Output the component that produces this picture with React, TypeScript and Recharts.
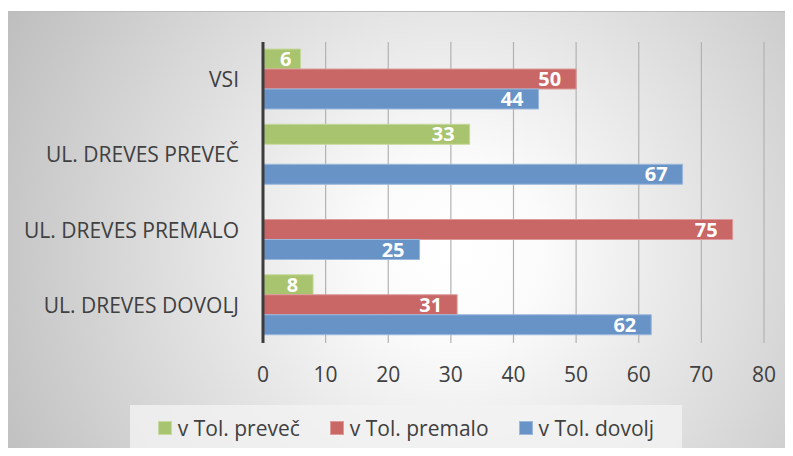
import React from "react";
import {
  BarChart,
  Bar,
  XAxis,
  YAxis,
  CartesianGrid,
  Legend,
  LabelList,
} from "recharts";

const categories = [
  "VSI",
  "UL. DREVES PREVEČ",
  "UL. DREVES PREMALO",
  "UL. DREVES DOVOLJ",
];

const preveč = [6, 33, null, 8];
const premalo = [50, null, 75, 31];
const dovolj = [44, 67, 25, 62];

const xTicks = [0, 10, 20, 30, 40, 50, 60, 70, 80];

const series = [
  { key: "preveč", name: "v Tol. preveč", fill: "#a8c46e", stroke: "#c6d99f" },
  { key: "premalo", name: "v Tol. premalo", fill: "#c96666", stroke: "#dc9a9a" },
  { key: "dovolj", name: "v Tol. dovolj", fill: "#6893c7", stroke: "#9cb8dc" },
];

const data = categories.map((name, i) => ({
  name,
  preveč: preveč[i],
  premalo: premalo[i],
  dovolj: dovolj[i],
}));

const FONT = "'Open Sans', 'Noto Sans', sans-serif";
const TEXT = "#404040";

function BarValue(props: any) {
  const { x, y, width, height, value } = props;
  if (value == null) return null;
  const small = width < 50;
  const tx = small ? x + width / 2 + 4 : x + width - 15;
  return (
    <text
      x={tx}
      y={y + height / 2}
      dy="0.36em"
      textAnchor={small ? "middle" : "end"}
      fill="#ffffff"
      fontWeight={700}
      fontSize={20}
      fontFamily={FONT}
    >
      {value}
    </text>
  );
}

function LegendBox() {
  return (
    <div
      style={{
        width: "100%",
        height: "100%",
        background: "rgba(242,242,242,0.8)",
        display: "flex",
        alignItems: "center",
        justifyContent: "center",
        gap: 30,
        fontFamily: FONT,
        fontSize: 21,
        color: TEXT,
      }}
    >
      {series.map((s) => (
        <div key={s.key} style={{ display: "flex", alignItems: "center" }}>
          <span
            style={{
              display: "inline-block",
              width: 12,
              height: 12,
              background: s.fill,
              border: `1px solid ${s.stroke}`,
              marginRight: 6,
            }}
          />
          <span>{s.name}</span>
        </div>
      ))}
    </div>
  );
}

export default function App() {
  return (
    <div style={{ position: "relative", width: 793, height: 456, margin: -8 }}>
      <div
        style={{
          position: "absolute",
          left: 6,
          top: 11,
          width: 787,
          height: 444,
          boxSizing: "border-box",
          border: "1px solid #bdbdbd",
          background:
            "radial-gradient(circle farthest-corner at 57% 54%, #ffffff 0%, #fbfbfb 18%, #bebebe 100%)",
        }}
      />
      <div style={{ position: "absolute", left: 0, top: 0 }}>
        <BarChart
          width={793}
          height={456}
          data={data}
          layout="vertical"
          margin={{ top: 42, right: 29, bottom: 73, left: 0 }}
          barCategoryGap={7}
          barGap={0}
        >
          <CartesianGrid horizontal={false} vertical stroke="#b2b2b2" strokeWidth={1.2} />
          <XAxis
            type="number"
            domain={[0, 80]}
            ticks={xTicks}
            axisLine={false}
            tickLine={false}
            tickSize={0}
            tickMargin={24}
            height={40}
            tick={{ fill: TEXT, fontSize: 21, fontFamily: FONT }}
          />
          <YAxis
            type="category"
            dataKey="name"
            width={263}
            axisLine={{ stroke: "#3c3c3c", strokeWidth: 3 }}
            tickLine={false}
            tickSize={0}
            tickMargin={24}
            tick={{ fill: TEXT, fontSize: 21, fontFamily: FONT }}
          />
          <Legend
            layout="horizontal"
            verticalAlign="middle"
            align="center"
            wrapperStyle={{ left: 130, top: 405, width: 552, height: 46 }}
            content={() => <LegendBox />}
          />
          {series.map((s) => (
            <Bar
              key={s.key}
              dataKey={s.key}
              name={s.name}
              fill={s.fill}
              stroke={s.stroke}
              strokeWidth={1}
              isAnimationActive={false}
            >
              <LabelList dataKey={s.key} content={BarValue} />
            </Bar>
          ))}
        </BarChart>
      </div>
    </div>
  );
}
